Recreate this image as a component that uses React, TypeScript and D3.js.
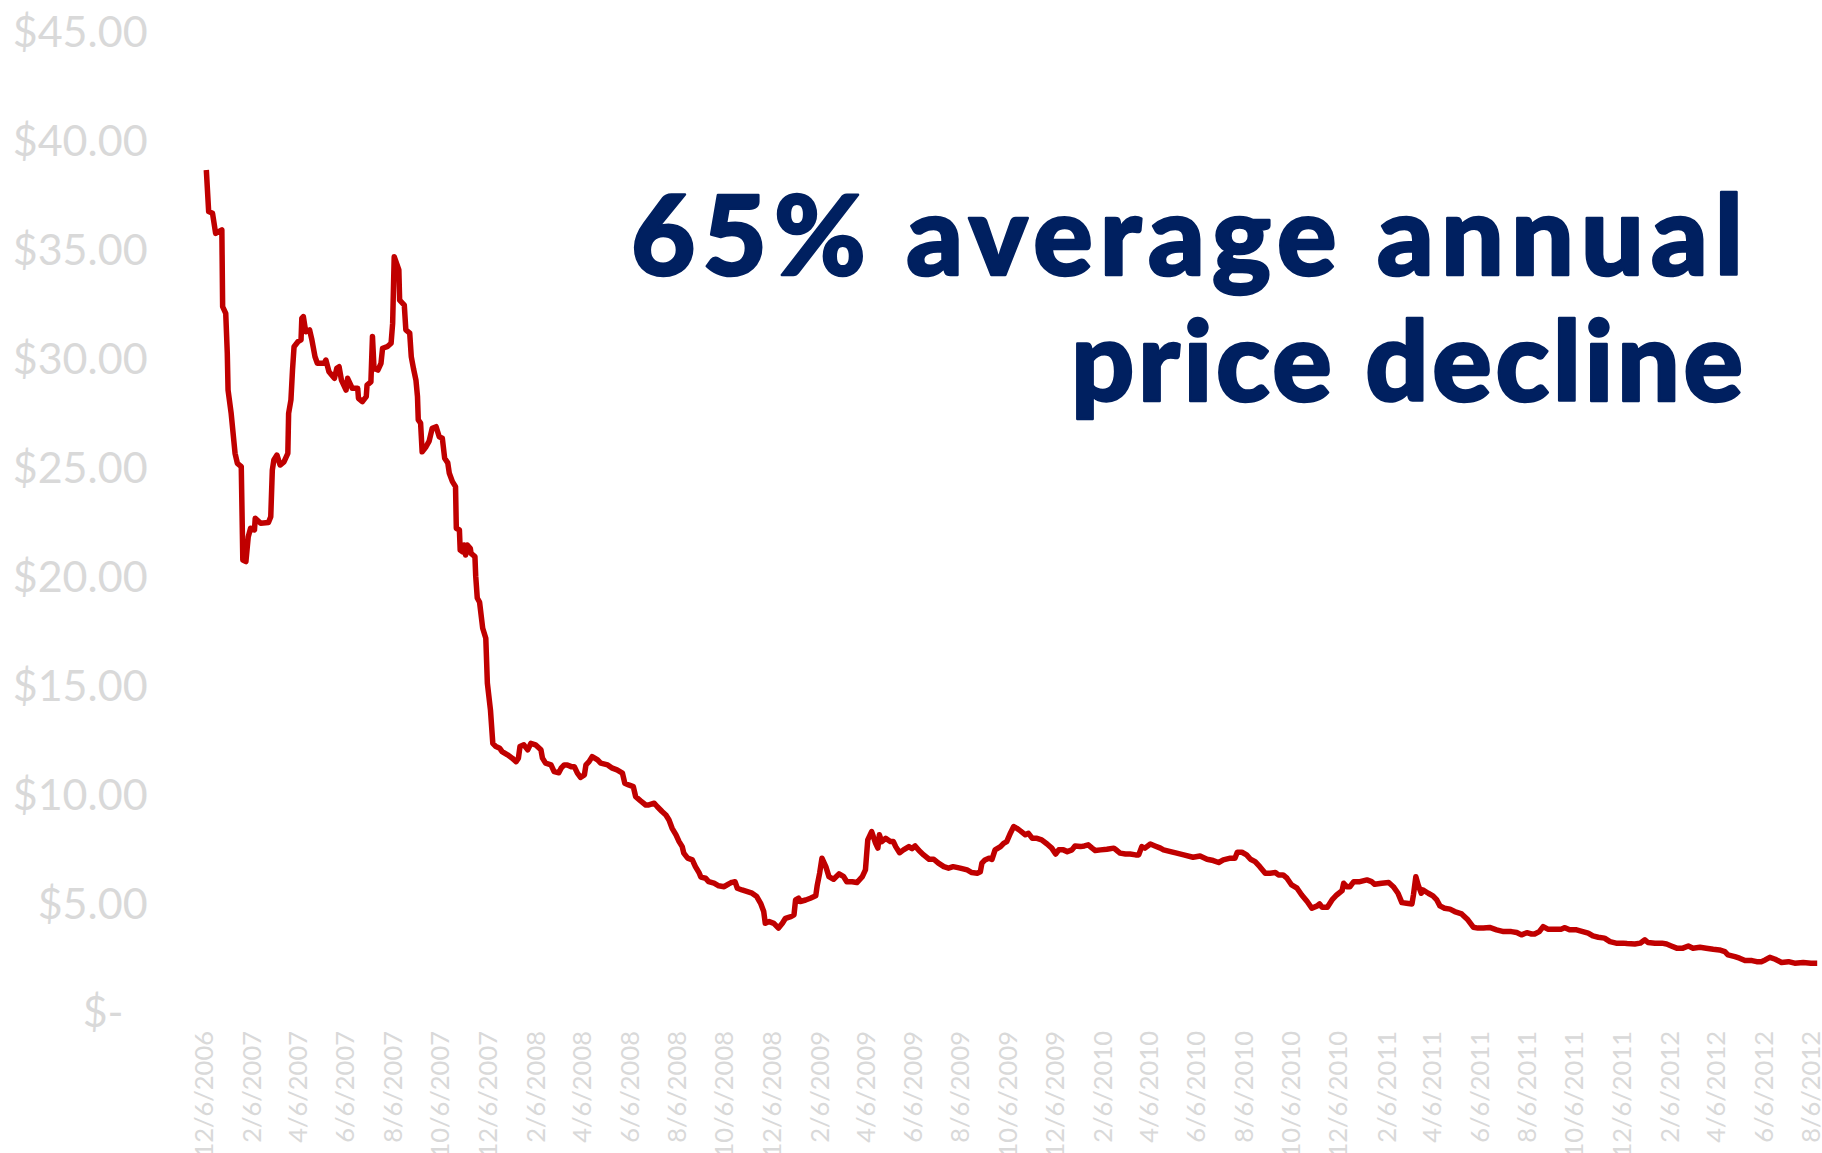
import React from 'react';
import * as d3 from 'd3';

// ---- data ----
const START_DATE = '2006-12-06';

// days since START_DATE
const DAY_OFFSETS = [
  3, 6, 11, 15, 23, 24, 28, 30, 31, 35, 40, 43, 48, 50, 54, 57, 60, 65, 66, 73,
  83, 86, 88, 90, 94, 98, 103, 108, 109, 112, 114, 116, 121, 125, 126, 128, 131, 136, 139, 143,
  146, 155, 157, 161, 168, 171, 174, 177, 183, 185, 191, 198, 199, 204, 209, 210, 215, 217, 219, 224,
  228, 230, 236, 241, 243, 245, 251, 252, 258, 260, 265, 267, 270, 273, 275, 276, 279, 281, 286, 290,
  294, 299, 303, 307, 310, 314, 316, 320, 324, 325, 329, 330, 333, 335, 337, 339, 343, 344, 349, 350,
  352, 355, 359, 363, 365, 369, 372, 376, 381, 384, 391, 397, 402, 405, 407, 412, 417, 421, 427, 434,
  436, 440, 447, 451, 457, 460, 464, 468, 473, 477, 481, 485, 490, 492, 496, 500, 507, 511, 520, 526,
  532, 539, 542, 547, 553, 556, 562, 569, 573, 580, 584, 590, 595, 599, 603, 608, 612, 616, 618, 623,
  629, 633, 638, 640, 646, 650, 657, 663, 670, 676, 680, 684, 687, 693, 700, 706, 712, 717, 721, 723,
  728, 734, 740, 745, 749, 756, 760, 762, 766, 768, 775, 781, 788, 790, 793, 796, 801, 805, 811, 818,
  824, 828, 835, 841, 848, 852, 855, 860, 865, 868, 870, 873, 878, 884, 888, 891, 896, 901, 908, 912,
  916, 921, 927, 934, 940, 946, 953, 959, 965, 974, 983, 989, 996, 1000, 1002, 1006, 1011, 1015, 1019, 1026,
  1030, 1034, 1039, 1043, 1047, 1052, 1058, 1062, 1067, 1073, 1079, 1086, 1092, 1097, 1101, 1107, 1112, 1118, 1122, 1129,
  1134, 1139, 1144, 1148, 1155, 1163, 1172, 1176, 1180, 1187, 1193, 1200, 1204, 1208, 1212, 1219, 1225, 1232, 1236, 1245,
  1253, 1262, 1274, 1283, 1292, 1300, 1307, 1313, 1322, 1328, 1331, 1337, 1343, 1348, 1354, 1360, 1367, 1373, 1380, 1384,
  1390, 1395, 1401, 1408, 1414, 1421, 1427, 1434, 1437, 1440, 1447, 1453, 1459, 1466, 1468, 1472, 1476, 1481, 1489, 1498,
  1504, 1508, 1517, 1526, 1532, 1538, 1543, 1549, 1556, 1558, 1561, 1564, 1568, 1570, 1577, 1583, 1588, 1592, 1598, 1605,
  1611, 1620, 1628, 1635, 1641, 1648, 1656, 1665, 1674, 1684, 1691, 1697, 1704, 1710, 1714, 1720, 1725, 1731, 1740, 1748,
  1753, 1759, 1768, 1776, 1783, 1789, 1796, 1804, 1811, 1819, 1828, 1833, 1843, 1850, 1856, 1860, 1869, 1878, 1884, 1890,
  1897, 1905, 1912, 1918, 1927, 1935, 1944, 1952, 1959, 1963, 1972, 1978, 1985, 1994, 2000, 2006, 2011, 2017, 2024, 2032,
  2041, 2049, 2060, 2070, 2078,
];

const PRICES = [
  38.64, 36.73, 36.65, 35.73, 35.89, 32.37, 32.06, 30.23, 28.54, 27.47, 25.64, 25.18, 25.03, 20.74, 20.67, 21.81, 22.2, 22.12, 22.66, 22.43,
  22.46, 22.73, 24.87, 25.33, 25.56, 25.1, 25.25, 25.64, 27.47, 28.09, 29.46, 30.53, 30.76, 30.84, 31.83, 31.91, 31.22, 31.3, 30.84, 30.07,
  29.77, 29.77, 29.92, 29.38, 29.08, 29.54, 29.61, 29.0, 28.54, 29.08, 28.62, 28.62, 28.16, 28.01, 28.24, 28.77, 28.92, 31.0, 29.54, 29.46,
  29.77, 30.46, 30.53, 30.69, 31.6, 34.66, 34.05, 32.67, 32.44, 31.3, 31.15, 30.07, 29.5, 29.0, 28.24, 27.17, 27.02, 25.71, 25.94, 26.2,
  26.79, 26.86, 26.4, 26.33, 25.41, 25.2, 24.72, 24.34, 24.11, 22.2, 22.12, 21.2, 21.12, 21.43, 20.97, 21.43, 21.28, 21.05, 20.9, 20.0,
  19.0, 18.8, 17.61, 17.15, 15.09, 13.86, 12.33, 12.18, 12.1, 11.95, 11.8, 11.65, 11.49, 11.65, 12.18, 12.26, 12.03, 12.33, 12.26, 12.03,
  11.65, 11.42, 11.34, 11.03, 10.98, 11.19, 11.34, 11.34, 11.26, 11.26, 10.96, 10.77, 10.88, 11.34, 11.49, 11.72, 11.57, 11.42, 11.34, 11.19,
  11.11, 10.96, 10.5, 10.42, 10.34, 9.88, 9.7, 9.5, 9.5, 9.58, 9.42, 9.2, 9.04, 8.81, 8.43, 8.13, 7.82, 7.59, 7.29, 7.06,
  6.98, 6.67, 6.37, 6.19, 6.14, 5.98, 5.91, 5.79, 5.75, 5.88, 5.95, 5.98, 5.68, 5.6, 5.52, 5.45, 5.3, 4.99, 4.61, 4.07,
  4.15, 4.07, 3.85, 4.07, 4.3, 4.38, 4.46, 5.14, 5.22, 5.07, 5.14, 5.22, 5.33, 5.83, 6.37, 7.06, 6.67, 6.21, 6.09, 6.34,
  6.21, 5.98, 5.98, 5.94, 6.21, 6.52, 7.9, 8.28, 7.75, 7.52, 8.13, 7.82, 7.97, 7.82, 7.82, 7.59, 7.31, 7.44, 7.59, 7.5,
  7.62, 7.41, 7.21, 7.01, 7.01, 6.83, 6.67, 6.6, 6.67, 6.6, 6.52, 6.4, 6.37, 6.44, 6.83, 6.98, 7.06, 7.0, 7.44, 7.59,
  7.74, 7.82, 8.23, 8.51, 8.43, 8.3, 8.13, 8.2, 7.97, 7.97, 7.9, 7.71, 7.52, 7.25, 7.44, 7.44, 7.36, 7.44, 7.62, 7.59,
  7.62, 7.67, 7.52, 7.41, 7.44, 7.47, 7.52, 7.41, 7.29, 7.25, 7.25, 7.21, 7.21, 7.59, 7.52, 7.71, 7.62, 7.52, 7.44, 7.36,
  7.29, 7.21, 7.1, 7.16, 7.01, 6.95, 6.86, 6.98, 7.06, 7.06, 7.33, 7.33, 7.21, 7.01, 6.9, 6.67, 6.37, 6.37, 6.4, 6.29,
  6.29, 6.14, 5.83, 5.68, 5.37, 5.07, 4.76, 4.87, 4.96, 4.81, 4.81, 5.14, 5.37, 5.57, 5.91, 5.75, 5.75, 5.98, 5.98, 6.06,
  5.98, 5.86, 5.91, 5.94, 5.75, 5.45, 5.02, 4.99, 4.96, 5.4, 6.21, 5.83, 5.45, 5.6, 5.45, 5.33, 5.14, 4.87, 4.76, 4.72,
  4.61, 4.5, 4.23, 3.89, 3.85, 3.85, 3.88, 3.77, 3.69, 3.69, 3.65, 3.54, 3.64, 3.58, 3.58, 3.69, 3.92, 3.8, 3.8, 3.8,
  3.87, 3.77, 3.77, 3.69, 3.62, 3.49, 3.43, 3.39, 3.23, 3.16, 3.16, 3.14, 3.12, 3.16, 3.31, 3.19, 3.16, 3.16, 3.12, 3.03,
  2.93, 2.93, 3.03, 2.93, 2.97, 2.93, 2.88, 2.85, 2.77, 2.62, 2.54, 2.47, 2.36, 2.36, 2.31, 2.31, 2.39, 2.51, 2.42, 2.27,
  2.31, 2.24, 2.27, 2.24, 2.24,
];

const Y_TICKS = [0, 5, 10, 15, 20, 25, 30, 35, 40, 45];
const Y_TICK_LABELS = ['$-', '$5.00', '$10.00', '$15.00', '$20.00', '$25.00', '$30.00', '$35.00', '$40.00', '$45.00'];

const X_TICK_LABELS = [
  '12/6/2006', '2/6/2007', '4/6/2007', '6/6/2007', '8/6/2007', '10/6/2007', '12/6/2007',
  '2/6/2008', '4/6/2008', '6/6/2008', '8/6/2008', '10/6/2008', '12/6/2008',
  '2/6/2009', '4/6/2009', '6/6/2009', '8/6/2009', '10/6/2009', '12/6/2009',
  '2/6/2010', '4/6/2010', '6/6/2010', '8/6/2010', '10/6/2010', '12/6/2010',
  '2/6/2011', '4/6/2011', '6/6/2011', '8/6/2011', '10/6/2011', '12/6/2011',
  '2/6/2012', '4/6/2012', '6/6/2012', '8/6/2012',
];

const TITLE_LINES = ['65% average annual', 'price decline'];

// ---- styles ----
const W = 1822;
const H = 1153;
const AXIS_COLOR = '#D9D9D9';
const LINE_COLOR = '#C00000';
const TITLE_COLOR = '#002060';
const FONT = 'Lato, "Open Sans", sans-serif';

export default function App() {
  const start = d3.timeParse('%Y-%m-%d')(START_DATE) as Date;
  const parseTick = d3.timeParse('%m/%d/%Y');
  const tickDates = X_TICK_LABELS.map((s) => parseTick(s) as Date);

  const data = DAY_OFFSETS.map((d, i) => ({ date: d3.timeDay.offset(start, d), value: PRICES[i] }));

  const x = d3.scaleTime().domain([start, tickDates[tickDates.length - 1]]).range([204, 1811]);
  const y = d3.scaleLinear().domain([0, 45]).range([1012, 31.4]);

  const linePath = d3
    .line<{ date: Date; value: number }>()
    .x((d) => x(d.date))
    .y((d) => y(d.value))(data) as string;

  const titleLayout = [
    { x: 631, y: 275, len: 1112 },
    { x: 1071, y: 401, len: 672 },
  ];

  return (
    <svg
      width={W}
      height={H}
      viewBox={`0 0 ${W} ${H}`}
      style={{ position: 'absolute', left: 0, top: 0, display: 'block', background: '#fff' }}
    >
      <rect x={0} y={0} width={W} height={H} fill="#fff" />
      {/* y axis labels */}
      <g fontFamily={FONT} fontSize={43} fill={AXIS_COLOR} textAnchor="end">
        {Y_TICKS.map((t, i) => (
          <text key={t} x={147.6} y={y(t)} dy="0.36em" dx={t === 0 ? -24 : 0}>
            {Y_TICK_LABELS[i]}
          </text>
        ))}
      </g>
      {/* x axis labels */}
      <g fontFamily={FONT} fontSize={25.5} fill={AXIS_COLOR} textAnchor="end">
        {tickDates.map((d, i) => (
          <text key={i} transform={`translate(${x(d)},1031) rotate(-90)`} dy="0.36em">
            {X_TICK_LABELS[i]}
          </text>
        ))}
      </g>
      {/* line */}
      <path d={linePath} fill="none" stroke={LINE_COLOR} strokeWidth={5.5} strokeLinejoin="round" strokeLinecap="butt" />
      {/* title */}
      <g
        fontFamily={FONT}
        fontWeight={900}
        fontSize={111}
        fill={TITLE_COLOR}
        stroke={TITLE_COLOR}
        strokeWidth={2.5}
        strokeLinejoin="round"
      >
        {TITLE_LINES.map((t, i) => (
          <text
            key={i}
            x={titleLayout[i].x}
            y={titleLayout[i].y}
            textLength={titleLayout[i].len}
            lengthAdjust="spacing"
          >
            {t}
          </text>
        ))}
      </g>
    </svg>
  );
}
